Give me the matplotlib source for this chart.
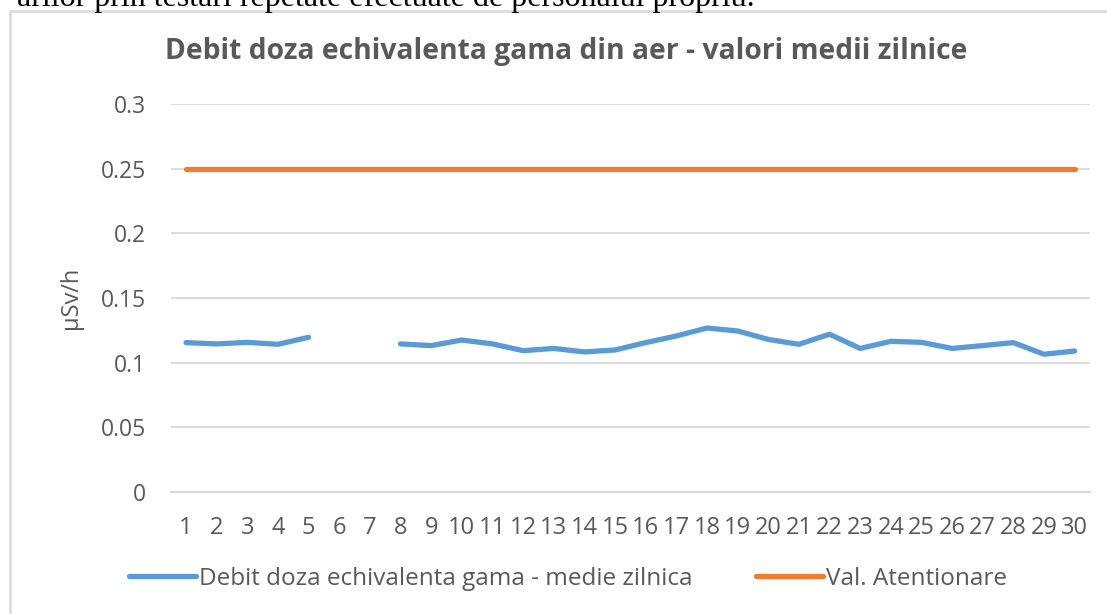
import numpy as np
import matplotlib
matplotlib.use("Agg")
import matplotlib.pyplot as plt
from matplotlib.lines import Line2D

days = list(range(1, 31))
daily_mean = [0.1155, 0.1145, 0.1157, 0.1142, 0.1196, np.nan, np.nan, 0.1145, 0.1132, 0.1175,
              0.1145, 0.1093, 0.1110, 0.1083, 0.1098, 0.1155, 0.1206, 0.1268, 0.1245, 0.1180,
              0.1142, 0.1220, 0.1110, 0.1165, 0.1157, 0.1110, 0.1132, 0.1155, 0.1065, 0.1090]
alert_level = [0.25] * 30
y_ticks = [0, 0.05, 0.1, 0.15, 0.2, 0.25, 0.3]
y_tick_labels = ["0", "0.05", "0.1", "0.15", "0.2", "0.25", "0.3"]

title = "Debit doza echivalenta gama din aer - valori medii zilnice"
series_names = ["Debit doza echivalenta gama - medie zilnica", "Val. Atentionare"]
page_text = "arilor prin testari repetate efectuate de personalul propriu."

text_grey = "#595959"
grid_grey = "#d9d9d9"
blue = "#5b9bd5"
orange = "#ed7d31"
sans = ["Open Sans", "DejaVu Sans"]

W, H = 1107, 614
fig = plt.figure(figsize=(W / 100, H / 100), dpi=100)
ax_w = 1090 - 170.7
ax = fig.add_axes([170.7 / W, 1 - 492 / H, ax_w / W, (492 - 104) / H])

ax.plot(days, daily_mean, color=blue, lw=3.8, solid_capstyle="round", solid_joinstyle="round",
        label=series_names[0])
ax.plot(days, alert_level, color=orange, lw=3.8, solid_capstyle="round", label=series_names[1])

ax.set_xlim(0.5, 30.5)
ax.set_ylim(0, 0.3)
ax.set_yticks(y_ticks)
ax.set_yticklabels(y_tick_labels)
ax.set_xticks(days)
ax.set_xticklabels([str(d) for d in days])
ax.tick_params(axis="both", length=0, labelcolor=text_grey)
ax.tick_params(axis="y", pad=18, labelsize=16.5)
ax.tick_params(axis="x", pad=17, labelsize=17)
for lbl in ax.get_xticklabels() + ax.get_yticklabels():
    lbl.set_fontfamily(sans)
ax.grid(axis="y", color=grid_grey, lw=1.3)
ax.set_axisbelow(True)
for side in ["top", "right", "left"]:
    ax.spines[side].set_visible(False)
ax.spines["bottom"].set_color(grid_grey)
ax.spines["bottom"].set_linewidth(1.6)

ax.set_ylabel("µSv/h", fontsize=17, color=text_grey, family=sans)
ax.yaxis.set_label_coords(-88 / ax_w, 0.5)

fig.text(566 / W, 1 - 52 / H, title, ha="center", va="center", fontsize=20.3, fontweight="bold",
         color=text_grey, family=sans)

leg = fig.legend(loc="center", bbox_to_anchor=(568 / W, 1 - 579 / H), ncol=2, frameon=False,
                 handlelength=2.75, handletextpad=0.12, columnspacing=2.6,
                 prop={"family": sans, "size": 17.5})
for t in leg.get_texts():
    t.set_color(text_grey)

# cropped line of document text above the chart
fig.text(755 / W, 1 - 6 / H, page_text, ha="right", va="baseline", fontsize=23,
         family="Liberation Serif", color="black")

fig.add_artist(Line2D([10 / W, 10 / W, 1.0], [0, 1 - 11 / H, 1 - 11 / H],
                      transform=fig.transFigure, color=grid_grey, lw=1.8))

fig.savefig("out.png", dpi=100)
